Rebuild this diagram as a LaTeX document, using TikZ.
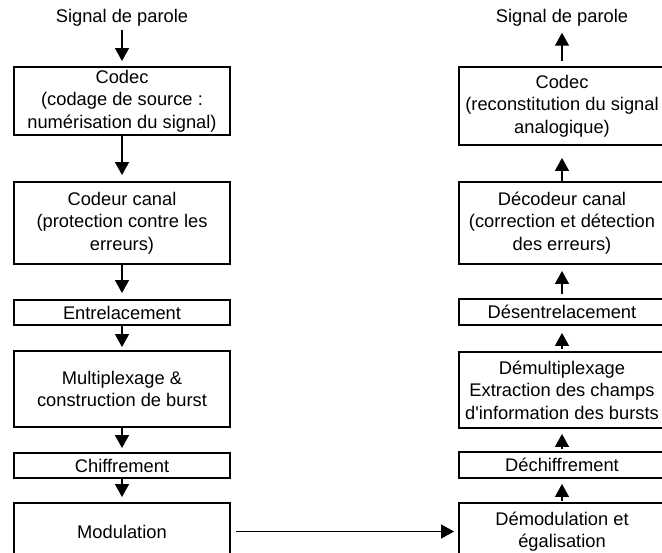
\documentclass[tikz,border=0pt]{standalone}
\usepackage{fontspec}
\setmainfont{Liberation Sans}
\usetikzlibrary{arrows.meta}
\begin{document}
\begin{tikzpicture}[x=1pt,y=-1pt,
  blk/.style={draw=black,line width=1.9pt,rectangle,inner sep=0pt,align=center,
    font=\fontsize{18.3}{22.5}\selectfont},
  lbl/.style={inner sep=1pt,font=\fontsize{18.3}{22.5}\selectfont},
  arr/.style={line width=1.3pt,-{Triangle[width=14pt,length=13pt]}}]
\useasboundingbox (0,0) rectangle (662,553);
\clip (0,0) rectangle (662,553);
\fill[white] (0,0) rectangle (662,553);

% transmission chain (left)
\node[lbl] (sigin) at (122,18) {Signal de parole};
\node[blk,minimum width=216pt,minimum height=68pt] (codec) at (122,101)
  {Codec\\(codage de source :\\numérisation du signal)};
\node[blk,minimum width=216pt,minimum height=82pt] (ccanal) at (122,223)
  {Codeur canal\\(protection contre les\\erreurs)};
\node[blk,minimum width=216pt,minimum height=25pt] (entr) at (122,312.5)
  {Entrelacement};
\node[blk,minimum width=216pt,minimum height=76pt] (mux) at (122,389)
  {Multiplexage \&\\construction de burst};
\node[blk,minimum width=216pt,minimum height=25pt] (chif) at (122,465.5)
  {Chiffrement};
\node[blk,minimum width=216pt,minimum height=57pt] (mod) at (122,531.5)
  {Modulation};

% reception chain (right)
\node[lbl] (sigout) at (562,18) {Signal de parole};
\node[blk,minimum width=206pt,minimum height=78pt] (dcodec) at (562,106)
  {Codec\\(reconstitution du signal\\analogique)};
\node[blk,minimum width=206pt,minimum height=82pt] (dcanal) at (562,223)
  {Décodeur canal\\(correction et détection\\des erreurs)};
\node[blk,minimum width=206pt,minimum height=26pt] (dentr) at (562,312)
  {Désentrelacement};
\node[blk,minimum width=206pt,minimum height=76pt] (demux) at (562,390)
  {Démultiplexage\\Extraction des champs\\d\textquotesingle information des bursts};
\node[blk,minimum width=206pt,minimum height=26pt] (dchif) at (562,465)
  {Déchiffrement};
\node[blk,minimum width=206pt,minimum height=57pt] (demod) at (562,531.5)
  {Démodulation et\\égalisation};

% downward arrows
\draw[arr,shorten <=2pt,shorten >=5pt] (sigin) -- (codec);
\draw[arr,shorten >=6pt] (codec) -- (ccanal);
\draw[arr,shorten >=6pt] (ccanal) -- (entr);
\draw[arr,shorten >=3pt] (entr) -- (mux);
\draw[arr,shorten >=4pt] (mux) -- (chif);
\draw[arr,shorten >=5pt] (chif) -- (mod);

% upward arrows
\draw[arr,shorten <=5pt,shorten >=5pt] (dcodec) -- (sigout);
\draw[arr,shorten >=12pt] (dcanal) -- (dcodec);
\draw[arr,shorten <=4pt,shorten >=6pt] (dentr) -- (dcanal);
\draw[arr,shorten <=2pt,shorten >=7pt] (demux) -- (dentr);
\draw[arr,shorten <=2pt,shorten >=5pt] (dchif) -- (demux);
\draw[arr,shorten <=1pt,shorten >=5pt] (demod) -- (dchif);

% radio link
\draw[arr,shorten <=5pt,shorten >=4pt] (mod) -- (demod);
\end{tikzpicture}
\end{document}
